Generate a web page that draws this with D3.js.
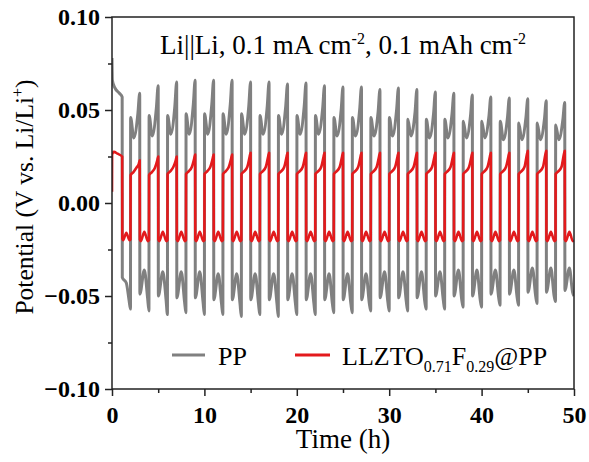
<!DOCTYPE html>
<html>
<head>
<meta charset="utf-8">
<script src="https://cdn.jsdelivr.net/npm/d3@7"></script>
<style>
  body { margin: 0; background: #fff; }
  svg text { font-family: "Liberation Serif", "Times New Roman", serif; fill: #000; }
</style>
</head>
<body>
<div id="viz"></div>
<script>
// Li||Li symmetric cell cycling, 1 h plating / 1 h stripping.
// Cycle k (1..24): positive half from 2k to 2k+1 h, negative half from 2k+1 to 2k+2 h.
// Index 0 of the "neg" arrays is the first negative half (1.1 to 2 h).

var xTicks = [0, 10, 20, 30, 40, 50];
var xMinor = [5, 15, 25, 35, 45];
var yTicks = [-0.10, -0.05, 0.00, 0.05, 0.10];
var yMinor = [-0.075, -0.025, 0.025, 0.075];
var seriesNames = ["PP", "LLZTO0.71F0.29@PP"];

// PP (grey): first hold before the first reversal
var ppFirstT = [0, 0.04, 0.3, 0.8, 1.1];
var ppFirstV = [0.078, 0.066, 0.062, 0.059, 0.057];
// PP positive halves, k = 1..24
var ppPosStart = [0.046, 0.047, 0.047, 0.048, 0.048, 0.048, 0.048, 0.047, 0.047, 0.047, 0.047, 0.046,
                  0.046, 0.046, 0.046, 0.045, 0.045, 0.045, 0.044, 0.044, 0.044, 0.043, 0.043, 0.042];
var ppValley   = [0.035, 0.036, 0.037, 0.037, 0.037, 0.037, 0.037, 0.037, 0.037, 0.037, 0.037, 0.036,
                  0.036, 0.036, 0.036, 0.036, 0.035, 0.035, 0.035, 0.035, 0.034, 0.034, 0.034, 0.034];
var ppPosKnee  = [0.048, 0.051, 0.052, 0.053, 0.053, 0.053, 0.052, 0.052, 0.052, 0.052, 0.051, 0.050,
                  0.050, 0.049, 0.050, 0.049, 0.048, 0.048, 0.047, 0.047, 0.046, 0.046, 0.045, 0.045];
var ppPeak     = [0.059, 0.063, 0.065, 0.066, 0.066, 0.066, 0.065, 0.065, 0.064, 0.0645, 0.063, 0.0624,
                  0.0624, 0.061, 0.0618, 0.061, 0.0597, 0.059, 0.058, 0.057, 0.0565, 0.056, 0.055, 0.054];
// PP negative halves, index 0..24
var ppNegStart = [-0.040, -0.049, -0.050, -0.051, -0.051, -0.052, -0.052, -0.052, -0.052, -0.052, -0.052, -0.052, -0.052,
                  -0.052, -0.051, -0.051, -0.051, -0.050, -0.050, -0.050, -0.049, -0.049, -0.048, -0.048, -0.047];
var ppHump     = [-0.043, -0.036, -0.037, -0.037, -0.037, -0.038, -0.038, -0.038, -0.038, -0.038, -0.038, -0.038, -0.038,
                  -0.038, -0.037, -0.037, -0.037, -0.037, -0.036, -0.036, -0.036, -0.036, -0.035, -0.035, -0.035];
var ppNegKnee  = [-0.053, -0.051, -0.052, -0.053, -0.053, -0.054, -0.054, -0.054, -0.054, -0.054, -0.054, -0.054, -0.054,
                  -0.054, -0.053, -0.053, -0.053, -0.052, -0.052, -0.052, -0.051, -0.051, -0.050, -0.050, -0.048];
var ppTrough   = [-0.057, -0.058, -0.060, -0.059, -0.060, -0.060, -0.061, -0.060, -0.061, -0.060, -0.060, -0.059, -0.059,
                  -0.058, -0.058, -0.058, -0.057, -0.057, -0.056, -0.056, -0.055, -0.055, -0.054, -0.053, -0.050];

// LLZTO0.71F0.29@PP (red)
var redFirstT = [0, 0.01, 0.2, 0.6, 1.1];
var redFirstV = [0.006, 0.026, 0.0275, 0.0265, 0.025];
var redPosStart = [0.015, 0.015, 0.0155, 0.0155, 0.0155, 0.0155, 0.0155, 0.0155, 0.0155, 0.0155, 0.0155, 0.0155,
                   0.0155, 0.0155, 0.0155, 0.0155, 0.0155, 0.0155, 0.0155, 0.0155, 0.0155, 0.0155, 0.0155, 0.0155];
var redPeak     = [0.023, 0.025, 0.025, 0.026, 0.026, 0.026, 0.027, 0.027, 0.027, 0.027, 0.027, 0.027,
                   0.027, 0.027, 0.027, 0.027, 0.027, 0.027, 0.027, 0.027, 0.027, 0.028, 0.028, 0.028];
var redNegLow   = [-0.020, -0.0205, -0.0205, -0.0205, -0.0205, -0.0205, -0.0205, -0.0205, -0.0205, -0.0205, -0.0205, -0.0205, -0.0205,
                   -0.0205, -0.0205, -0.0205, -0.0205, -0.0205, -0.0205, -0.0205, -0.0205, -0.0205, -0.0205, -0.0205, -0.0205];
var redNegHump  = [-0.016, -0.0155, -0.0155, -0.0155, -0.0155, -0.0155, -0.0155, -0.0155, -0.0155, -0.0155, -0.0155, -0.0155, -0.0155,
                   -0.0155, -0.0155, -0.0155, -0.0155, -0.0155, -0.0155, -0.0155, -0.0155, -0.0155, -0.0155, -0.0155, -0.0155];

var W = 589, H = 462;
var x = d3.scaleLinear().domain([0, 50]).range([112, 574]);
var y = d3.scaleLinear().domain([-0.1, 0.1]).range([389, 17]);

var eps = 0.015;

// Turn the read-off levels into [time, value] points
function ppPoints() {
    var pts = [];
    for (var i = 0; i < ppFirstT.length; i++) pts.push([ppFirstT[i], ppFirstV[i]]);
    for (var k = 0; k <= 24; k++) {
        var tn = (k == 0) ? 1.1 : 2 * k + 1;
        var len = (k == 0) ? 0.9 : 1;
        if (k > 0) {
            var tp = 2 * k;
            var j = k - 1;
            pts.push([tp + eps, ppPosStart[j]]);
            pts.push([tp + 0.36, ppValley[j]]);
            pts.push([tp + 0.8, ppPosKnee[j]]);
            pts.push([tp + 1, ppPeak[j]]);
        }
        pts.push([tn + eps, ppNegStart[k]]);
        pts.push([tn + 0.5 * len, ppHump[k]]);
        pts.push([tn + 0.85 * len, ppNegKnee[k]]);
        pts.push([tn + len, ppTrough[k]]);
    }
    return pts;
}

function redPoints() {
    var pts = [];
    for (var i = 0; i < redFirstT.length; i++) pts.push([redFirstT[i], redFirstV[i]]);
    for (var k = 0; k <= 24; k++) {
        var tn = (k == 0) ? 1.1 : 2 * k + 1;
        var len = (k == 0) ? 0.9 : 1;
        if (k > 0) {
            var tp = 2 * k;
            var j = k - 1;
            pts.push([tp + eps, redPosStart[j]]);
            pts.push([tp + 0.3, redPosStart[j] + 0.0015]);
            pts.push([tp + 0.65, redPosStart[j] + 0.004]);
            pts.push([tp + 0.9, redPeak[j] - 0.002]);
            pts.push([tp + 1, redPeak[j]]);
        }
        pts.push([tn + eps, redNegLow[k] + 0.0008]);
        pts.push([tn + 0.12 * len, redNegLow[k]]);
        pts.push([tn + 0.5 * len, redNegHump[k]]);
        pts.push([tn + 0.88 * len, redNegLow[k]]);
        pts.push([tn + len, redNegLow[k] + 0.0005]);
    }
    return pts;
}

var svg = d3.select("#viz").append("svg")
    .attr("width", W)
    .attr("height", H);

var line = d3.line()
    .x(function(d) { return x(d[0]); })
    .y(function(d) { return y(d[1]); })
    .curve(d3.curveMonotoneX);

svg.append("defs").append("clipPath").attr("id", "clip")
    .append("rect")
    .attr("x", x(0)).attr("y", y(0.1))
    .attr("width", x(50) - x(0)).attr("height", y(-0.1) - y(0.1));

var plot = svg.append("g").attr("clip-path", "url(#clip)");
plot.append("path")
    .datum(ppPoints())
    .attr("d", line)
    .attr("fill", "none")
    .attr("stroke", "#808080")
    .attr("stroke-width", 3)
    .attr("stroke-linejoin", "round");
plot.append("path")
    .datum(redPoints())
    .attr("d", line)
    .attr("fill", "none")
    .attr("stroke", "#e31a1c")
    .attr("stroke-width", 2.6)
    .attr("stroke-linejoin", "round");

// frame
svg.append("rect")
    .attr("x", x(0)).attr("y", y(0.1))
    .attr("width", x(50) - x(0)).attr("height", y(-0.1) - y(0.1))
    .attr("fill", "none")
    .attr("stroke", "#222")
    .attr("stroke-width", 1.5);

// axes
var gx = svg.append("g").attr("transform", "translate(0," + y(-0.1) + ")");
gx.call(d3.axisBottom(x).tickValues(xTicks).tickSize(7).tickPadding(10).tickFormat(d3.format("d")));
var gxm = svg.append("g").attr("transform", "translate(0," + y(-0.1) + ")");
gxm.call(d3.axisBottom(x).tickValues(xMinor).tickSize(4).tickFormat(""));

var gy = svg.append("g").attr("transform", "translate(" + x(0) + ",0)");
gy.call(d3.axisLeft(y).tickValues(yTicks).tickSize(7).tickPadding(5).tickFormat(d3.format(".2f")));
var gym = svg.append("g").attr("transform", "translate(" + x(0) + ",0)");
gym.call(d3.axisLeft(y).tickValues(yMinor).tickSize(4).tickFormat(""));

svg.selectAll(".domain").remove();
svg.selectAll(".tick line").attr("stroke", "#222").attr("stroke-width", 1.5);
svg.selectAll(".tick text")
    .style("font-family", "'Liberation Serif', serif")
    .style("font-size", "24px")
    .style("font-weight", "bold")
    .attr("fill", "#000");

// axis titles
svg.append("text")
    .attr("x", (x(0) + x(50)) / 2)
    .attr("y", 448)
    .attr("text-anchor", "middle")
    .style("font-size", "27px")
    .text("Time (h)");

var yt = svg.append("text")
    .attr("transform", "translate(33,197) rotate(-90)")
    .attr("text-anchor", "middle")
    .style("font-size", "25.5px");
yt.append("tspan").text("Potential (V vs. Li/Li");
yt.append("tspan").attr("dy", -10).style("font-size", "16px").text("+");
yt.append("tspan").attr("dy", 10).text(")");

// condition note
var note = svg.append("text")
    .attr("x", (x(0) + x(50)) / 2)
    .attr("y", 54)
    .attr("text-anchor", "middle")
    .style("font-size", "27px");
note.append("tspan").text("Li||Li, 0.1 mA cm");
note.append("tspan").attr("dy", -10).style("font-size", "16px").text("-2");
note.append("tspan").attr("dy", 10).text(", 0.1 mAh cm");
note.append("tspan").attr("dy", -10).style("font-size", "16px").text("-2");

// legend
var legend = svg.append("g");
legend.append("line")
    .attr("x1", 172).attr("x2", 205).attr("y1", 355).attr("y2", 355)
    .attr("stroke", "#808080").attr("stroke-width", 3);
legend.append("text")
    .attr("x", 218).attr("y", 365)
    .style("font-size", "26px")
    .text(seriesNames[0]);
legend.append("line")
    .attr("x1", 295).attr("x2", 330).attr("y1", 355).attr("y2", 355)
    .attr("stroke", "#e31a1c").attr("stroke-width", 3);
var lt = legend.append("text")
    .attr("x", 342).attr("y", 365)
    .style("font-size", "26px");
lt.append("tspan").text("LLZTO");
lt.append("tspan").attr("dy", 7).style("font-size", "16px").text("0.71");
lt.append("tspan").attr("dy", -7).text("F");
lt.append("tspan").attr("dy", 7).style("font-size", "16px").text("0.29");
lt.append("tspan").attr("dy", -7).text("@PP");
</script>
</body>
</html>
